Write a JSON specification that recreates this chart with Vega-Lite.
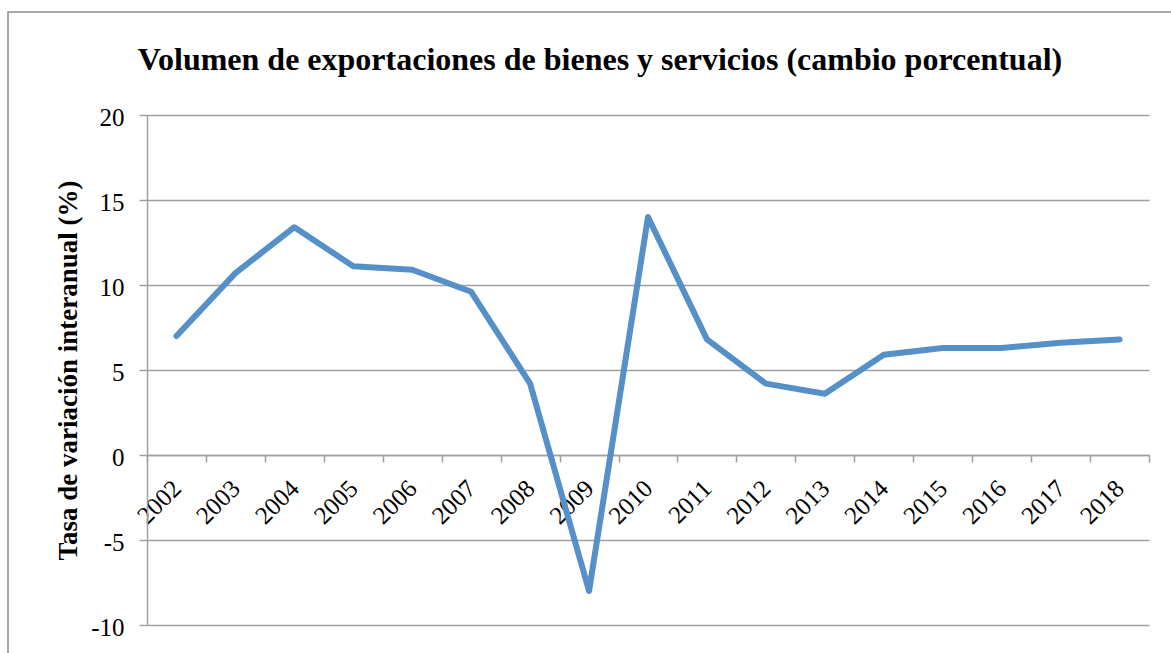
{
  "$schema": "https://vega.github.io/schema/vega-lite/v6.json",
  "autosize": {"type": "none"},
  "padding": {"left": 8, "top": 12, "right": 0, "bottom": 0},
  "width": 1163,
  "height": 641,
  "background": "white",
  "config": {"view": {"stroke": "#8c8c8c", "strokeWidth": 1.5, "fill": "white", "strokeDash": [1163, 1804, 641]}},
  "title": {
    "text": "Volumen de exportaciones de bienes y servicios (cambio porcentual)",
    "font": "Liberation Serif",
    "fontSize": 32,
    "fontWeight": "bold",
    "color": "black",
    "anchor": "middle",
    "frame": "group",
    "baseline": "alphabetic",
    "offset": -58,
    "dy": 32,
    "dx": 10.5
  },
  "data": {
    "values": [
      {"year": "2002", "value": 7.0},
      {"year": "2003", "value": 10.7},
      {"year": "2004", "value": 13.4},
      {"year": "2005", "value": 11.1},
      {"year": "2006", "value": 10.9},
      {"year": "2007", "value": 9.6},
      {"year": "2008", "value": 4.2},
      {"year": "2009", "value": -8.0},
      {"year": "2010", "value": 14.0},
      {"year": "2011", "value": 6.8},
      {"year": "2012", "value": 4.2},
      {"year": "2013", "value": 3.6},
      {"year": "2014", "value": 5.9},
      {"year": "2015", "value": 6.3},
      {"year": "2016", "value": 6.3},
      {"year": "2017", "value": 6.6},
      {"year": "2018", "value": 6.8}
    ]
  },
  "mark": {"type": "line", "color": "#5590c8", "strokeWidth": 6, "strokeCap": "round", "strokeJoin": "round"},
  "encoding": {
    "x": {
      "field": "year",
      "type": "ordinal",
      "scale": {"type": "band", "range": [139, 1141], "paddingInner": 0, "paddingOuter": 0},
      "axis": {
        "title": null,
        "orient": "bottom",
        "offset": -198,
        "tickBand": "extent",
        "labelAngle": -45,
        "labelAlign": "right",
        "labelBaseline": "middle",
        "labelPadding": 22,
        "labelFont": "Liberation Serif",
        "labelFontSize": 25,
        "labelColor": "black",
        "tickColor": "#a0a0a0",
        "tickSize": 7,
        "tickWidth": 1.5,
        "domainColor": "#a0a0a0",
        "domainWidth": 1.5,
        "grid": false,
        "labelOverlap": false,
        "labelBound": false,
        "labelFlush": false
      }
    },
    "y": {
      "field": "value",
      "type": "quantitative",
      "scale": {"domain": [-10, 20], "range": [613, 103], "nice": false, "zero": false},
      "axis": {
        "title": "Tasa de variación interanual (%)",
        "offset": -139,
        "values": [-10, -5, 0, 5, 10, 15, 20],
        "labelExpr": "'' + datum.value",
        "grid": true,
        "gridColor": "#a0a0a0",
        "gridWidth": 1.5,
        "domainColor": "#a0a0a0",
        "domainWidth": 1.5,
        "tickColor": "#a0a0a0",
        "tickSize": 8,
        "tickWidth": 1.5,
        "labelFont": "Liberation Serif",
        "labelFontSize": 25,
        "labelColor": "black",
        "labelPadding": 15,
        "labelOffset": 2,
        "titleFont": "Liberation Serif",
        "titleFontSize": 27,
        "titleFontWeight": "bold",
        "titleColor": "black",
        "titlePadding": 8
      }
    }
  }
}
